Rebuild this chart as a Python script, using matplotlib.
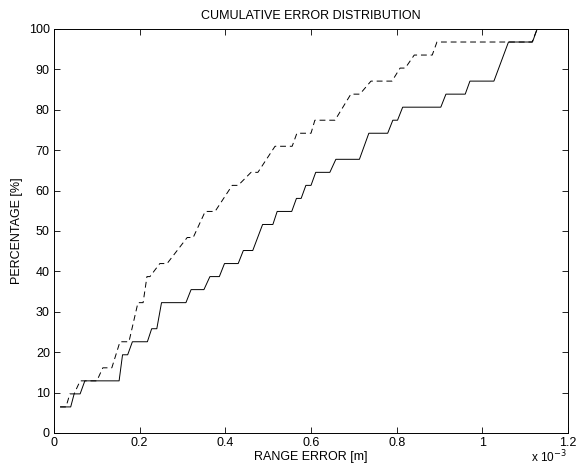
import matplotlib
matplotlib.use("Agg")
import matplotlib.pyplot as plt
import numpy as np

# nombre d'echantillons (chaque palier = 1/31)
n_samples = 31

# courbe continue : abscisses (x 1e-3 m) et niveaux (rang de l'echantillon)
solid_x = [0.0156, 0.039, 0.047, 0.061, 0.072, 0.152, 0.160, 0.172, 0.183, 0.218,
           0.228, 0.240, 0.251, 0.308, 0.320, 0.350, 0.364, 0.386, 0.398, 0.430,
           0.442, 0.464, 0.487, 0.511, 0.521, 0.555, 0.566, 0.577, 0.588, 0.600,
           0.611, 0.644, 0.658, 0.713, 0.735, 0.779, 0.791, 0.802, 0.814, 0.903,
           0.915, 0.960, 0.971, 1.027, 1.061, 1.117, 1.128]
solid_lvl = [2, 2, 3, 3, 4, 4, 6, 6, 7, 7,
             8, 8, 10, 10, 11, 11, 12, 12, 13, 13,
             14, 14, 16, 16, 17, 17, 18, 18, 19, 19,
             20, 20, 21, 21, 23, 23, 24, 24, 25, 25,
             26, 26, 27, 27, 30, 30, 31]

# courbe en tirets
dash_x = [0.014, 0.028, 0.037, 0.047, 0.061, 0.100, 0.114, 0.135, 0.154, 0.175,
          0.196, 0.208, 0.217, 0.224, 0.247, 0.264, 0.311, 0.325, 0.353, 0.376,
          0.416, 0.430, 0.460, 0.476, 0.516, 0.556, 0.567, 0.600, 0.609, 0.656,
          0.693, 0.714, 0.740, 0.789, 0.808, 0.820, 0.841, 0.883, 0.894, 1.116,
          1.128]
dash_lvl = [2, 2, 3, 3, 4, 4, 5, 5, 7, 7,
            10, 10, 12, 12, 13, 13, 15, 15, 17, 17,
            19, 19, 20, 20, 22, 22, 23, 23, 24, 24,
            26, 26, 27, 27, 28, 28, 29, 29, 30, 30,
            31]

x_ticks = [0, 0.2, 0.4, 0.6, 0.8, 1, 1.2]
x_tick_labels = ["0", "0.2", "0.4", "0.6", "0.8", "1", "1.2"]
y_ticks = list(range(0, 101, 10))

plt.rcParams["font.family"] = ["Liberation Sans", "DejaVu Sans"]
plt.rcParams["font.size"] = 9

fig = plt.figure(figsize=(5.76, 4.69), dpi=100)
ax = fig.add_axes([0.09375, 0.0768, 0.8924, 0.8614])

solid_y = np.array(solid_lvl) * 100.0 / n_samples
dash_y = np.array(dash_lvl) * 100.0 / n_samples

ax.plot(solid_x, solid_y, color="black", lw=0.7, ls="-")
ax.plot(dash_x, dash_y, color="black", lw=0.7, ls=(0, (6, 4)))

ax.set_xlim(0, 1.2)
ax.set_ylim(0, 100)
ax.set_xticks(x_ticks)
ax.set_xticklabels(x_tick_labels)
ax.set_yticks(y_ticks)
ax.tick_params(direction="in", top=True, right=True, length=4, width=0.6, pad=3)
for s in ax.spines.values():
    s.set_linewidth(0.7)

ax.set_title("CUMULATIVE ERROR DISTRIBUTION", fontsize=9, pad=7)
ax.set_xlabel("RANGE ERROR [m]", labelpad=1)
ax.set_ylabel("PERCENTAGE [%]", labelpad=4)
ax.text(0.998, -0.04, r"x 10$^{-3}$", transform=ax.transAxes, ha="right", va="top",
        fontsize=8.5)

fig.savefig("out.png", dpi=100)
